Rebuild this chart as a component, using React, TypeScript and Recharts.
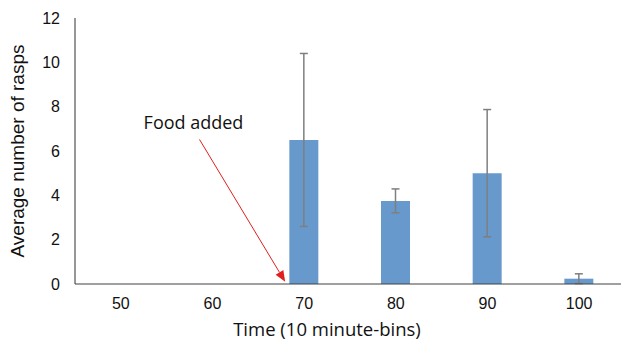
import React from "react";
import { BarChart, Bar, XAxis, YAxis, ErrorBar, ReferenceLine, Label } from "recharts";

const bins = ["50", "60", "70", "80", "90", "100"];
const avgRasps = [0, 0, 6.5, 3.75, 5.0, 0.24];
const errRasps = [0, 0, 3.9, 0.54, 2.87, 0.22];
const yTicks = [0, 2, 4, 6, 8, 10, 12];

const data = bins.map((time, i) => ({ time, rasps: avgRasps[i], err: errRasps[i] }));

const tickFont = { fontFamily: "Liberation Sans, Arial, sans-serif", fontSize: 16, fill: "#111" };

// red arrow + "Food added" note, anchored to the segment ends from recharts
const FoodArrow = (props: any) => {
  const { x1, y1, x2, y2 } = props;
  const sx = x1 - 13;
  const sy = y1;
  const ex = x2 - 19;
  const ey = y2;
  const dx = ex - sx;
  const dy = ey - sy;
  const len = Math.sqrt(dx * dx + dy * dy);
  const ux = dx / len;
  const uy = dy / len;
  const head = 11;
  const half = 4.5;
  const bx = ex - ux * head;
  const by = ey - uy * head;
  const pts = `${ex},${ey} ${bx - uy * half},${by + ux * half} ${bx + uy * half},${by - ux * half}`;
  return (
    <g>
      <line x1={sx} y1={sy} x2={bx} y2={by} stroke="#e0201d" strokeWidth={1} />
      <polygon points={pts} fill="#e0201d" />
      <text
        x={sx - 6}
        y={sy - 10}
        textAnchor="middle"
        fontFamily="Open Sans, sans-serif"
        fontSize={18}
        fill="#111"
      >
        Food added
      </text>
    </g>
  );
};

const App = () => (
  <div style={{ position: "absolute", left: 0, top: 0, width: 621, height: 340, overflow: "hidden", background: "#fff" }}>
    <BarChart width={630} height={340} data={data} margin={{ top: 18, right: 5, bottom: 0, left: 0 }}>
      <XAxis
        dataKey="time"
        height={56}
        tickLine={false}
        tickMargin={8}
        stroke="#404040"
        fontSize={16}
        tick={tickFont}
      >
        <Label
          content={({ viewBox }: any) => (
            <text
              x={viewBox.x + 252}
              y={viewBox.y + 52}
              textAnchor="middle"
              fontFamily="Open Sans, sans-serif"
              fontSize={18.5}
              fill="#111"
            >
              Time (10 minute-bins)
            </text>
          )}
        />
      </XAxis>
      <YAxis
        width={75}
        domain={[0, 12]}
        ticks={yTicks}
        tickLine={false}
        tickMargin={9}
        stroke="#303030"
        fontSize={16}
        tick={tickFont}
      >
        <Label
          content={({ viewBox }: any) => {
            const cx = viewBox.x + 24;
            const cy = viewBox.y + viewBox.height / 2;
            return (
              <text
                x={cx}
                y={cy}
                transform={`rotate(-90, ${cx}, ${cy})`}
                textAnchor="middle"
                fontFamily="Liberation Sans, Arial, sans-serif"
                fontSize={19}
                fill="#111"
              >
                Average number of rasps
              </text>
            );
          }}
        />
      </YAxis>
      <Bar dataKey="rasps" fill="#6899cd" barSize={29} isAnimationActive={false}>
        <ErrorBar dataKey="err" width={4} stroke="#7f7f7f" strokeWidth={1.5} isAnimationActive={false} />
      </Bar>
      <ReferenceLine
        segment={[
          { x: "60", y: 6.52 },
          { x: "70", y: 0.1 },
        ]}
        shape={FoodArrow}
      />
    </BarChart>
  </div>
);

export default App;
